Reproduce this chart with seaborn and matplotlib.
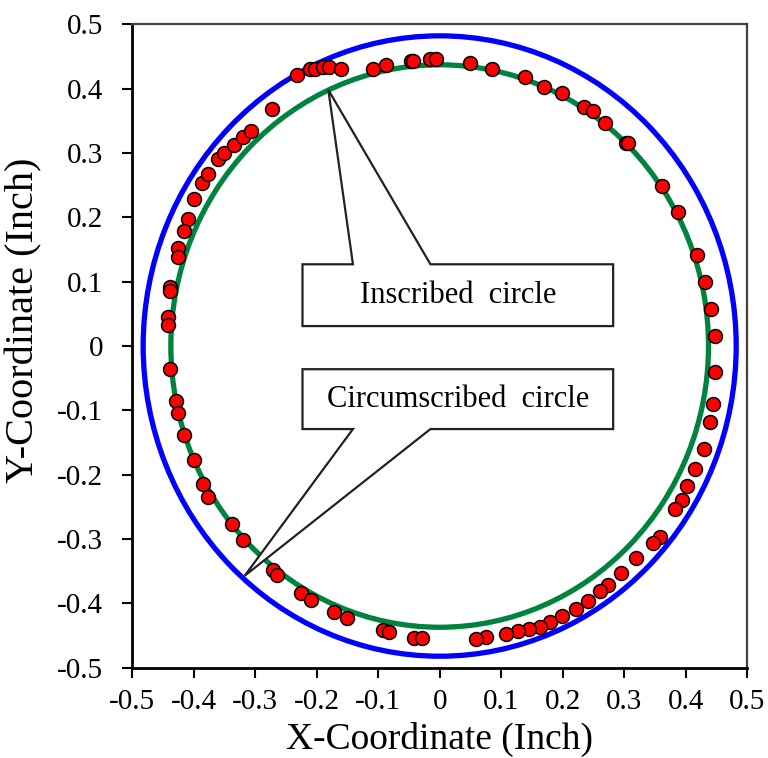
import numpy as np
import pandas as pd
import matplotlib
matplotlib.use("Agg")
import matplotlib.pyplot as plt
import seaborn as sns
from matplotlib.patches import Circle, Polygon

x_pts = [-0.400, -0.387, -0.377, -0.361, -0.351, -0.335, -0.319, -0.306, -0.273, -0.232,
         -0.211, -0.202, -0.189, -0.180, -0.161, -0.108, -0.087, -0.047, -0.044, -0.015,
         -0.006, 0.050, 0.085, 0.138, 0.169, 0.199, 0.234, 0.250, 0.269, 0.303,
         0.306, 0.361, 0.387, 0.419, 0.432, 0.441, 0.447, 0.447, 0.444, 0.439,
         0.429, 0.415, 0.402, 0.394, 0.383, 0.358, 0.347, 0.319, 0.295, 0.273,
         0.260, 0.241, 0.221, 0.199, 0.180, 0.163, 0.146, 0.128, 0.108, 0.076,
         0.059, -0.400, -0.384, -0.377, -0.338, -0.319, -0.271, -0.265, -0.225, -0.209,
         -0.171, -0.151, -0.092, -0.083, -0.042, -0.028, -0.409, -0.416, -0.426, -0.425,
         -0.439, -0.438, -0.442, -0.441, -0.438, -0.429, -0.426, -0.416]
y_pts = [0.229, 0.254, 0.267, 0.290, 0.300, 0.313, 0.325, 0.334, 0.368, 0.421,
         0.431, 0.431, 0.434, 0.433, 0.430, 0.430, 0.437, 0.443, 0.443, 0.446,
         0.446, 0.440, 0.430, 0.418, 0.403, 0.393, 0.372, 0.365, 0.346, 0.316,
         0.316, 0.248, 0.209, 0.142, 0.099, 0.058, 0.015, -0.041, -0.090, -0.118,
         -0.160, -0.191, -0.218, -0.240, -0.254, -0.296, -0.306, -0.330, -0.352, -0.371,
         -0.380, -0.396, -0.408, -0.420, -0.429, -0.436, -0.440, -0.443, -0.447, -0.452,
         -0.455, -0.177, -0.215, -0.234, -0.277, -0.302, -0.348, -0.356, -0.383, -0.395,
         -0.414, -0.423, -0.441, -0.445, -0.454, -0.454, 0.197, 0.179, 0.152, 0.138,
         0.092, 0.086, 0.045, 0.033, -0.036, -0.085, -0.104, -0.138]

r_inscribed = 0.437
r_circumscribed = 0.482
ticks = [-0.5, -0.4, -0.3, -0.2, -0.1, 0, 0.1, 0.2, 0.3, 0.4, 0.5]
tick_labels = ["-0.5", "-0.4", "-0.3", "-0.2", "-0.1", "0", "0.1", "0.2", "0.3", "0.4", "0.5"]

df = pd.DataFrame({"x": x_pts, "y": y_pts})

sns.set_style("white")
plt.rcParams["font.family"] = ["Liberation Serif", "DejaVu Serif"]
plt.rcParams["text.color"] = "black"

fig = plt.figure(figsize=(7.68, 7.58), dpi=100)
ax = fig.add_axes([0.172, 0.119, 0.801, 0.849])

ax.add_patch(Circle((0, 0), r_circumscribed, fill=False, color="#0000FF", lw=3.8, zorder=2))
ax.add_patch(Circle((0, 0), r_inscribed, fill=False, color="#00843D", lw=3.8, zorder=2))

sns.scatterplot(data=df, x="x", y="y", ax=ax, color="#FF0000", edgecolor="black",
                linewidth=1.1, s=100, zorder=4)

# callout boxes
call1 = [(-0.223, 0.127), (-0.141, 0.127), (-0.181, 0.398), (-0.015, 0.127),
         (0.282, 0.127), (0.282, 0.031), (-0.223, 0.031)]
call2 = [(-0.223, -0.036), (0.282, -0.036), (0.282, -0.129), (-0.015, -0.129),
         (-0.317, -0.357), (-0.141, -0.129), (-0.223, -0.129)]
for c in (call1, call2):
    ax.add_patch(Polygon(c, closed=True, facecolor="white", edgecolor="#222222",
                         lw=1.6, zorder=5))
ax.text(0.03, 0.078, "Inscribed  circle", ha="center", va="center", fontsize=22,
        color="black", zorder=6)
ax.text(0.03, -0.083, "Circumscribed  circle", ha="center", va="center", fontsize=22,
        color="black", zorder=6)

ax.set_xlim(-0.5, 0.5)
ax.set_ylim(-0.5, 0.5)
ax.set_xticks(ticks)
ax.set_xticklabels(tick_labels)
ax.set_yticks(ticks)
ax.set_yticklabels(tick_labels)
ax.tick_params(axis="both", direction="out", length=7, width=1.5, labelsize=21,
               color="black", labelcolor="black", bottom=True, left=True)
ax.tick_params(axis="x", pad=8)
ax.tick_params(axis="y", pad=14)
ax.set_xlabel("X-Coordinate (Inch)", fontsize=27, labelpad=5, color="black")
ax.set_ylabel("Y-Coordinate (Inch)", fontsize=29, color="black")
ax.yaxis.set_label_coords(-0.145, 0.54)

for s in ("left", "bottom"):
    ax.spines[s].set_color("black")
    ax.spines[s].set_linewidth(2)
for s in ("top", "right"):
    ax.spines[s].set_color("#404040")
    ax.spines[s].set_linewidth(1.6)

fig.savefig("out.png", dpi=100)
